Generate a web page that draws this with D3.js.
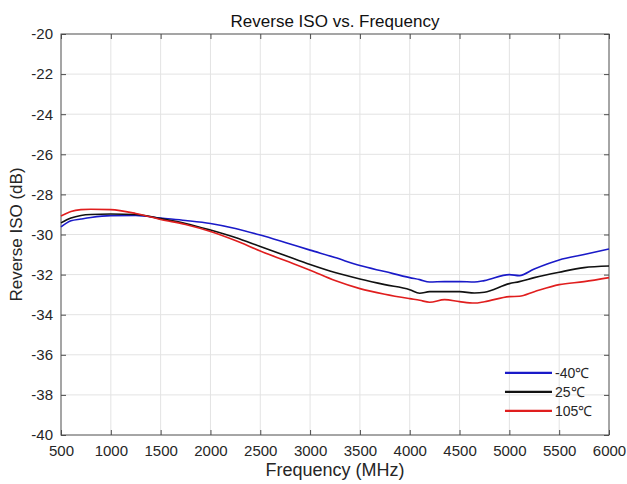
<!DOCTYPE html>
<html>
<head>
<meta charset="utf-8">
<script src="https://cdn.jsdelivr.net/npm/d3@7"></script>
<style>
  html, body { margin: 0; padding: 0; background: #fff; }
  svg { display: block; font-family: "Liberation Sans", Arial, sans-serif; }
</style>
</head>
<body>
<div id="chart"></div>
<script>
// ---------------------------------------------------------------------------
// Reverse ISO vs. Frequency — three temperature curves
// ---------------------------------------------------------------------------

const freqMHz = [500, 600, 700, 800, 1000, 1250, 1500, 1750, 2000, 2250, 2500, 2750, 3000, 3250,
  3500, 3750, 4000, 4100, 4200, 4350, 4500, 4650, 4750, 5000, 5100, 5250, 5500, 5750, 6000];

const isoMinus40 = [-29.62, -29.32, -29.23, -29.15, -29.06, -29.05, -29.18, -29.3, -29.45, -29.7,
  -30.03, -30.4, -30.78, -31.15, -31.55, -31.85, -32.15, -32.25, -32.37, -32.35, -32.35, -32.37,
  -32.3, -32.0, -32.05, -31.72, -31.27, -31.0, -30.72];

const iso25 = [-29.42, -29.18, -29.05, -29.0, -28.98, -29.0, -29.21, -29.45, -29.78, -30.15,
  -30.6, -31.05, -31.5, -31.9, -32.22, -32.5, -32.75, -32.93, -32.85, -32.85, -32.85, -32.92,
  -32.88, -32.45, -32.35, -32.15, -31.88, -31.65, -31.57];

const iso105 = [-29.08, -28.85, -28.76, -28.74, -28.76, -28.95, -29.25, -29.5, -29.85, -30.3,
  -30.82, -31.3, -31.78, -32.3, -32.7, -32.98, -33.2, -33.28, -33.38, -33.25, -33.35, -33.42,
  -33.35, -33.1, -33.08, -32.85, -32.5, -32.35, -32.15];

const seriesNames = ['-40\u2103', '25\u2103', '105\u2103'];
const seriesColors = ['#1a1ac8', '#111111', '#e01e1e'];
const xTicks = d3.range(500, 6001, 500);
const yTicks = d3.range(-40, -19, 2);

const width = 627;
const height = 484;
const margin = { top: 34, right: 18, bottom: 49, left: 61 };
const innerW = width - margin.left - margin.right;
const innerH = height - margin.top - margin.bottom;

const x = d3.scaleLinear().domain([500, 6000]).range([0, innerW]);
const y = d3.scaleLinear().domain([-40, -20]).range([innerH, 0]);

const svg = d3.select('#chart').append('svg')
  .attr('width', width).attr('height', height);

const g = svg.append('g').attr('transform', `translate(${margin.left},${margin.top})`);

// grid
g.append('g').selectAll('line').data(xTicks.slice(1, -1)).join('line')
  .attr('x1', (d) => x(d)).attr('x2', (d) => x(d)).attr('y1', 0).attr('y2', innerH)
  .attr('stroke', '#e3e3e3').attr('stroke-width', 1);
g.append('g').selectAll('line').data(yTicks.slice(1, -1)).join('line')
  .attr('y1', (d) => y(d)).attr('y2', (d) => y(d)).attr('x1', 0).attr('x2', innerW)
  .attr('stroke', '#e3e3e3').attr('stroke-width', 1);

// axes (ticks inward, MATLAB style)
const axisColor = '#4d4d4d';
const fmt = (d) => String(d);
const styleAxis = (sel, labels) => {
  sel.select('.domain').remove();
  sel.selectAll('line').attr('stroke', axisColor);
  sel.selectAll('text').attr('fill', '#262626').style('font-size', '15px');
  if (!labels) sel.selectAll('text').remove();
};

g.append('g').attr('transform', `translate(0,${innerH})`)
  .call(d3.axisBottom(x).tickValues(xTicks).tickFormat(fmt).tickSizeInner(-5).tickSizeOuter(0).tickPadding(10))
  .call((s) => styleAxis(s, true));
g.append('g')
  .call(d3.axisTop(x).tickValues(xTicks).tickSizeInner(-5).tickSizeOuter(0))
  .call((s) => styleAxis(s, false));
g.append('g')
  .call(d3.axisLeft(y).tickValues(yTicks).tickFormat(fmt).tickSizeInner(-5).tickSizeOuter(0).tickPadding(8))
  .call((s) => styleAxis(s, true));
g.append('g').attr('transform', `translate(${innerW},0)`)
  .call(d3.axisRight(y).tickValues(yTicks).tickSizeInner(-5).tickSizeOuter(0))
  .call((s) => styleAxis(s, false));

g.append('rect').attr('x', 0).attr('y', 0).attr('width', innerW).attr('height', innerH)
  .attr('fill', 'none').attr('stroke', axisColor).attr('stroke-width', 1);

// curves
const line = d3.line().x((d) => x(d[0])).y((d) => y(d[1])).curve(d3.curveMonotoneX);
const series = [isoMinus40, iso25, iso105].map((vals, i) => ({
  name: seriesNames[i],
  color: seriesColors[i],
  points: freqMHz.map((f, j) => [f, vals[j]]),
}));

g.selectAll('path.curve').data(series).join('path')
  .attr('class', 'curve')
  .attr('fill', 'none')
  .attr('stroke', (d) => d.color)
  .attr('stroke-width', 1.6)
  .attr('d', (d) => line(d.points));

// legend
const legend = g.append('g').attr('transform', `translate(${x(4956)},${y(-36.9)})`);
series.forEach((s, i) => {
  const row = legend.append('g').attr('transform', `translate(0,${i * 19})`);
  row.append('line').attr('x1', 0).attr('x2', 47).attr('y1', 0).attr('y2', 0)
    .attr('stroke', s.color).attr('stroke-width', 2.2);
  row.append('text').attr('x', 50).attr('y', 5).style('font-size', '14px')
    .attr('fill', '#262626').text(s.name);
});

// titles
svg.append('text').attr('x', margin.left + innerW / 2).attr('y', 27)
  .attr('text-anchor', 'middle').style('font-size', '17px').attr('fill', '#111')
  .text('Reverse ISO vs. Frequency');
svg.append('text').attr('x', margin.left + innerW / 2).attr('y', 476)
  .attr('text-anchor', 'middle').style('font-size', '18px').attr('fill', '#262626')
  .text('Frequency (MHz)');
svg.append('text')
  .attr('transform', `translate(22,${margin.top + innerH / 2}) rotate(-90)`)
  .attr('text-anchor', 'middle').style('font-size', '17px').attr('fill', '#262626')
  .text('Reverse ISO (dB)');
</script>
</body>
</html>
